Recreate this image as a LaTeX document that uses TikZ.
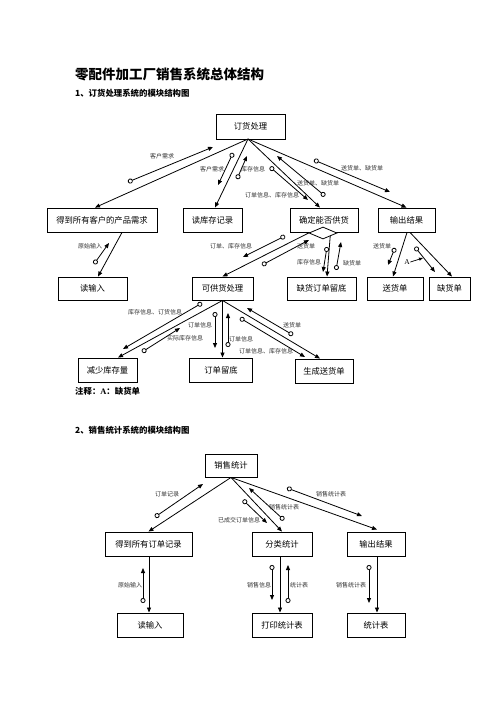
\documentclass[tikz,border=0pt]{standalone}
\usepackage{fontspec}
\setmainfont{Noto Sans CJK SC}
\newfontfamily\latfont{Liberation Serif}
\usetikzlibrary{arrows.meta,shapes.geometric,calc}
\begin{document}
\begin{tikzpicture}[x=1pt,y=-1pt,
  box/.style={draw, line width=0.9pt, inner sep=0pt, minimum height=24pt, font=\fontsize{8.3}{10}\selectfont},
  link/.style={line width=0.8pt, -{Triangle[length=5pt,width=4pt]}},
  couple/.style={line width=0.8pt, {Circle[open,length=5pt,width=5pt]}-{Triangle[length=5pt,width=4pt]}},
  lbl/.style={font=\fontsize{6}{7}\selectfont, inner sep=0pt, text=black!80},
  head/.style={anchor=west, inner sep=0pt, font=\fontsize{8.4}{10}\selectfont\bfseries},
]
\useasboundingbox (0,0) rectangle (496,702);
\fill[white] (0,0) rectangle (496,702);

% headings
\node[anchor=west, inner sep=0pt, font=\fontsize{13.5}{16}\selectfont\bfseries] (title) at (75,74) {零配件加工厂销售系统总体结构};
\node[head] (sub1) at (75,93) {1、订货处理系统的模块结构图};
\node[head] (note) at (75,391) {注释：{\latfont A}：缺货单};
\node[head] (sub2) at (75,430) {2、销售统计系统的模块结构图};

% ===== part 1 boxes =====
\node[box, minimum width=69pt, minimum height=25pt] (top) at (250.5,126.5) {订货处理};
\node[box, minimum width=110pt] (b1) at (102,220) {得到所有客户的产品需求};
\node[box, minimum width=59pt] (b2) at (212.5,220) {读库存记录};
\node[box, minimum width=68pt] (b3) at (324,220) {确定能否供货};
\node[box, minimum width=57pt] (b4) at (406.5,220) {输出结果};
\node[box, minimum width=69pt, minimum height=23pt] (c1) at (92.5,288.5) {读输入};
\node[box, minimum width=61pt, minimum height=23pt] (c2) at (222.5,288.5) {可供货处理};
\node[box, minimum width=69pt, minimum height=23pt] (c3) at (321.5,288.5) {缺货订单留底};
\node[box, minimum width=56pt, minimum height=23pt] (c4) at (395,288.5) {送货单};
\node[box, minimum width=41pt, minimum height=23pt] (c5) at (449.5,288.5) {缺货单};
\node[box, minimum width=59pt] (d1) at (107.5,370) {减少库存量};
\node[box, minimum width=63pt] (d2) at (221,370) {订单留底};
\node[box, minimum width=58pt] (d3) at (324,371) {生成送货单};
\node[diamond, draw, fill=white, line width=0.8pt, minimum width=28pt, minimum height=12pt, inner sep=0pt, aspect=2.3] (dm) at (323,233) {};

% main links part 1
\coordinate (h1) at (248,139);
\draw[link] (h1) -- ($(b1.north)+(-7,0)$);
\draw[link] (h1) -- ($(b2.north)+(2.5,0)$);
\draw[link] (h1) -- ($(b3.north)+(-4,0)$);
\draw[link] (h1) -- (b4.north);
\draw[link] ($(b1.south)+(20,0)$) -- ($(c1.north)+(5.5,0)$);
\draw[link] (dm.west) -- (c2.north);
\draw[link] (dm.south east) -- ($(c3.north)+(5.5,0)$);
\draw[link] ($(b4.south)+(0.5,0)$) -- ($(c4.north)+(-2,0)$);
\draw[link] ($(b4.south)+(3.5,0)$) -- ($(c5.north)+(2.5,0)$);
\draw[link] (c2.south) -- ($(d1.north)+(10.5,0)$);
\draw[link] (c2.south) -- (c2.south |- d2.north);
\draw[link] (c2.south) -- ($(d3.north)+(-4,0)$);

% couples part 1
\coordinate (k1s) at (128,182);  \coordinate (k1e) at (213,147);  \draw[couple] (k1s) -- (k1e);
\coordinate (k2s) at (233,153);  \coordinate (k2e) at (218,185);  \draw[couple] (k2s) -- (k2e);
\coordinate (k3s) at (237,179);  \coordinate (k3e) at (247,156);  \draw[couple] (k3s) -- (k3e);
\coordinate (k4s) at (270,167);  \coordinate (k4e) at (308,200);  \draw[couple] (k4s) -- (k4e);
\coordinate (k5s) at (325,196);  \coordinate (k5e) at (277,156);  \draw[couple] (k5s) -- (k5e);
\coordinate (k6s) at (314,160);  \coordinate (k6e) at (390,192);  \draw[couple] (k6s) -- (k6e);
\coordinate (k7s) at (94,264);   \coordinate (k7e) at (109,243);  \draw[couple] (k7s) -- (k7e);
\coordinate (k8s) at (285,236);  \coordinate (k8e) at (243,257);  \draw[couple] (k8s) -- (k8e);
\coordinate (k9s) at (262,265);  \coordinate (k9e) at (309,240);  \draw[couple] (k9s) -- (k9e);
\coordinate (k10s) at (327,247); \coordinate (k10e) at (323,272); \draw[couple] (k10s) -- (k10e);
\coordinate (k11s) at (336,270); \coordinate (k11e) at (341,242); \draw[couple] (k11s) -- (k11e);
\coordinate (k12s) at (395,248); \coordinate (k12e) at (388,265); \draw[couple] (k12s) -- (k12e);
\coordinate (k13s) at (415,247); \coordinate (k13e) at (435,272); \draw[couple] (k13s) -- (k13e);
\coordinate (k14s) at (202,303); \coordinate (k14e) at (123,349); \draw[couple] (k14s) -- (k14e);
\coordinate (k15s) at (142,352); \coordinate (k15e) at (180,328); \draw[couple] (k15s) -- (k15e);
\coordinate (k16s) at (215,312); \coordinate (k16e) at (215,348); \draw[couple] (k16s) -- (k16e);
\coordinate (k17s) at (228,347); \coordinate (k17e) at (228,313); \draw[couple] (k17s) -- (k17e);
\coordinate (k18s) at (240,318); \coordinate (k18e) at (305,357); \draw[couple] (k18s) -- (k18e);
\coordinate (k19s) at (293,335); \coordinate (k19e) at (247,308); \draw[couple] (k19s) -- (k19e);

% A marker
\node[font=\latfont\fontsize{7.5}{8}\selectfont, inner sep=0.5pt] (A) at (407,262) {A};
\coordinate (Ae) at (423,258);
\draw[line width=0.7pt, -{Triangle[length=4pt,width=3pt]}] (A.east) -- (Ae);

% labels part 1
\node[lbl] (l1) at (162,156) {客户需求};
\node[lbl] (l2) at (212,169) {客户需求};
\node[lbl] (l3) at (253,169) {库存信息};
\node[lbl] (l3b) at (306,170) {.};
\node[lbl] (l4) at (362,168) {送货单、缺货单};
\node[lbl] (l5) at (318,183) {送货单、缺货单};
\node[lbl] (l6) at (272,195) {订单信息、库存信息};
\node[lbl] (l7) at (90,246) {原始输入};
\node[lbl] (l8) at (231,246) {订单、库存信息};
\node[lbl] (l9) at (306,246) {送货单};
\node[lbl] (l10) at (382,246) {送货单};
\node[lbl] (l11) at (309,262) {库存信息};
\node[lbl] (l12) at (352,263) {缺货单};
\node[lbl] (l13) at (155,312) {库存信息、订货信息};
\node[lbl] (l14) at (185,338) {实际库存信息};
\node[lbl] (l15) at (200,325) {订单信息};
\node[lbl] (l16) at (241,339) {订单信息};
\node[lbl] (l17) at (292,325) {送货单};
\node[lbl] (l18) at (266,351) {订单信息、库存信息};

% ===== part 2 boxes =====
\node[box, minimum width=52pt, minimum height=23pt] (s0) at (231,465.5) {销售统计};
\node[box, minimum width=87pt] (s1) at (148.5,544) {得到所有订单记录};
\node[box, minimum width=60pt] (s2) at (282,544) {分类统计};
\node[box, minimum width=58pt] (s3) at (376,544) {输出结果};
\node[box, minimum width=66pt] (t1) at (150,625) {读输入};
\node[box, minimum width=60pt] (t2) at (282,625) {打印统计表};
\node[box, minimum width=58pt] (t3) at (376,625) {统计表};

% main links part 2
\draw[link] (s0.south) -- (s1.north);
\draw[link] (s0.south) -- (s2.north);
\draw[link] (s0.south) -- ($(s3.north)+(1,-2)$);
\coordinate (p1) at ($(s1.south)+(0.5,0)$);
\coordinate (p2) at ($(s2.south)+(-2,0)$);
\coordinate (p3) at ($(s3.south)+(1,0)$);
\draw[link] (p1) -- (p1 |- t1.north);
\draw[link] (p2) -- (p2 |- t2.north);
\draw[link] (p3) -- (p3 |- t3.north);

% couples part 2
\coordinate (m1s) at (155,517); \coordinate (m1e) at (203,484); \draw[couple] (m1s) -- (m1e);
\coordinate (m2s) at (243,500); \coordinate (m2e) at (267,523); \draw[couple] (m2s) -- (m2e);
\coordinate (m3s) at (284,520); \coordinate (m3e) at (249,488); \draw[couple] (m3s) -- (m3e);
\coordinate (m4s) at (287,488); \coordinate (m4e) at (362,516); \draw[couple] (m4s) -- (m4e);
\coordinate (m5s) at (143,603); \coordinate (m5e) at (143,568); \draw[couple] (m5s) -- (m5e);
\coordinate (m6s) at (272,565); \coordinate (m6e) at (272,600); \draw[couple] (m6s) -- (m6e);
\coordinate (m7s) at (288,603); \coordinate (m7e) at (288,565); \draw[couple] (m7s) -- (m7e);
\coordinate (m8s) at (369,565); \coordinate (m8e) at (369,603); \draw[couple] (m8s) -- (m8e);

% labels part 2
\node[lbl] (n1) at (167,494) {订单记录};
\node[lbl] (n2) at (239,520) {已成交订单信息};
\node[lbl] (n3) at (284,507) {销售统计表};
\node[lbl] (n4) at (331,494) {销售统计表};
\node[lbl] (n5) at (130,585) {原始输入};
\node[lbl] (n6) at (259,585) {销售信息};
\node[lbl] (n7) at (299,585) {统计表};
\node[lbl] (n8) at (351,585) {销售统计表};
\end{tikzpicture}
\end{document}
